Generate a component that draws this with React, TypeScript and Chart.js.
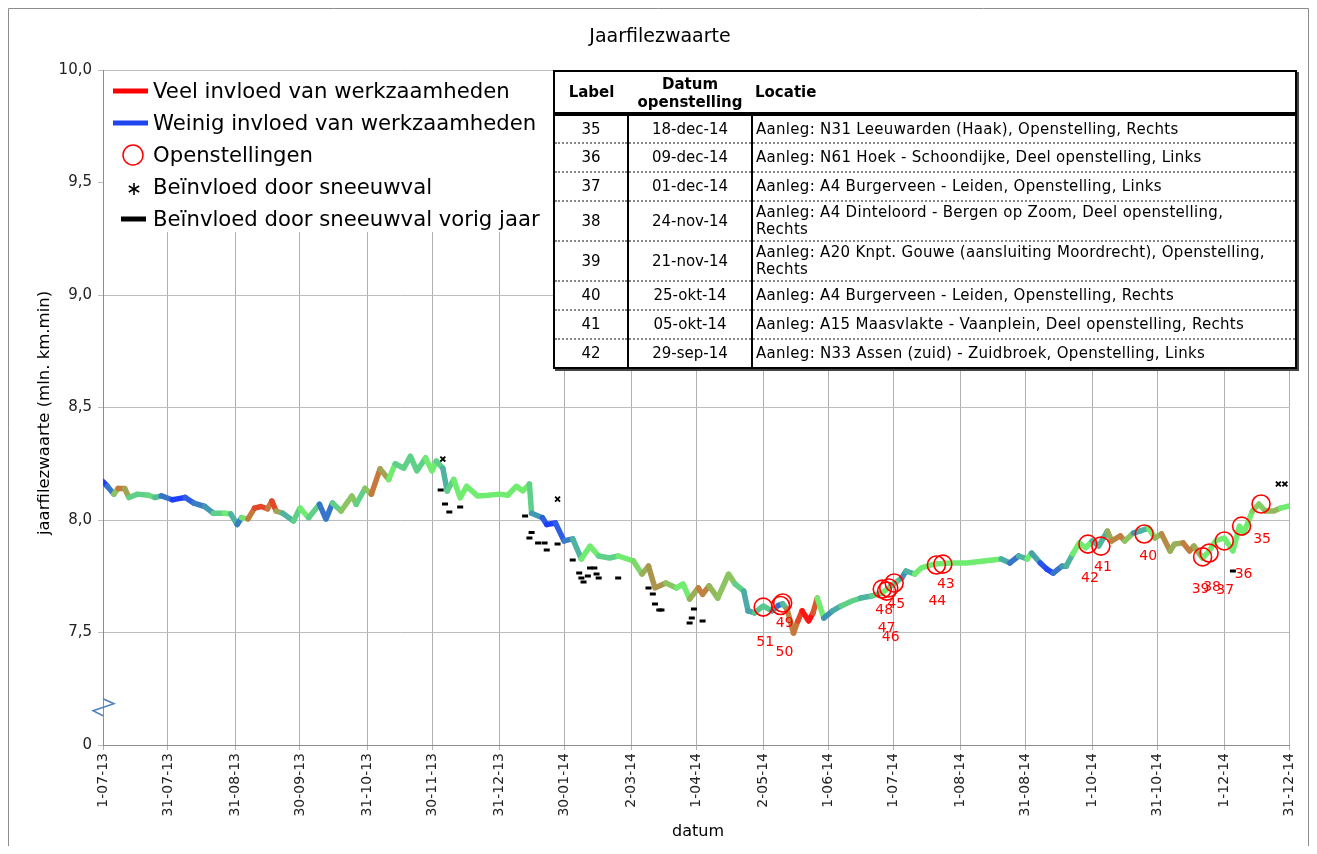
import React, { useEffect, useRef } from "react";
import { Chart, registerables } from "chart.js";

Chart.register(...registerables);

// ---------- DATA ----------
// days since 1-07-2013
const dagen = [
  0, 2, 5, 7, 10, 12, 16, 21, 24, 27, 32, 35, 38, 42, 47, 51, 56, 59, 62, 64,
  67, 70, 73, 76, 78, 80, 83, 88, 91, 95, 100, 103, 106, 110, 115, 117, 121, 124, 128, 132,
  135, 139, 142, 145, 149, 152, 154, 157, 159, 162, 165, 168, 173, 178, 183, 187, 191, 194, 197, 198,
  203, 205, 209, 213, 217, 221, 225, 229, 234, 238, 245, 249, 252, 255, 260, 265, 268, 271, 275, 277,
  280, 284, 289, 292, 296, 298, 301, 305, 309, 312, 314, 316, 319, 321, 323, 326, 328, 330, 333, 337,
  341, 346, 350, 355, 360, 364, 369, 371, 375, 378, 384, 392, 399, 407, 415, 419, 423, 427, 429, 433,
  436, 439, 443, 445, 448, 451, 454, 457, 460, 464, 466, 470, 472, 476, 479, 483, 486, 489, 493, 495,
  499, 502, 504, 508, 511, 514, 518, 522, 525, 527, 531, 534, 537, 541, 544, 548,
];
// jaarfilezwaarte (mln. km.min)
const waarden = [
  8.17, 8.15, 8.115, 8.14, 8.14, 8.1, 8.115, 8.11, 8.1, 8.107, 8.09, 8.095, 8.1, 8.075, 8.06, 8.03, 8.03, 8.027, 7.98, 8.01,
  8.005, 8.053, 8.06, 8.05, 8.084, 8.04, 8.03, 7.996, 8.053, 8.01, 8.07, 8.004, 8.075, 8.04, 8.107, 8.07, 8.14, 8.115, 8.227, 8.18,
  8.25, 8.23, 8.284, 8.218, 8.276, 8.218, 8.262, 8.23, 8.129, 8.18, 8.098, 8.15, 8.107, 8.11, 8.115, 8.11, 8.15, 8.129, 8.16, 8.03,
  8.01, 7.98, 7.987, 7.907, 7.916, 7.827, 7.884, 7.84, 7.831, 7.84, 7.818, 7.76, 7.795, 7.698, 7.72, 7.698, 7.716, 7.649, 7.698, 7.67,
  7.707, 7.653, 7.76, 7.716, 7.684, 7.596, 7.587, 7.618, 7.596, 7.62, 7.627, 7.604, 7.498, 7.551, 7.596, 7.551, 7.587, 7.653, 7.564, 7.596,
  7.618, 7.64, 7.653, 7.662, 7.676, 7.707, 7.742, 7.773, 7.76, 7.787, 7.804, 7.809, 7.809, 7.818, 7.827, 7.809, 7.84, 7.827, 7.853, 7.809,
  7.782, 7.764, 7.795, 7.795, 7.849, 7.898, 7.876, 7.907, 7.884, 7.951, 7.907, 7.929, 7.907, 7.942, 7.951, 7.964, 7.92, 7.938, 7.862, 7.893,
  7.898, 7.862, 7.884, 7.831, 7.862, 7.907, 7.92, 7.862, 7.973, 7.942, 8.04, 8.071, 8.04, 8.04, 8.053, 8.062,
];
// invloed van werkzaamheden: -1 = weinig, 0 = neutraal, 1 = veel
const invloed = [
  -1, -1, -0.3, 0.7, 0.7, 0, -0.3, 0, -0.2, -0.3, -1, -1, -1, -0.6, -0.6, -0.3, 0, 0, -0.6, -0.6,
  0.7, 0.7, 1, 0.7, 0.7, 1, -0.3, -0.3, 0, 0, -0.3, -1, -0.3, 0, 0.4, 0, -0.3, 0.7, 0.7, 0,
  0, -0.3, 0, -0.3, 0, 0, 0, -0.3, -0.3, 0, 0, 0, 0, 0, 0, 0, 0, 0, 0, -0.3,
  -0.6, -1, -1, -0.6, -0.6, 0, 0, 0, -0.3, 0, 0, 0.2, 0.4, 0.5, 0.4, 0, 0, 0, 0.6, 0.7,
  0.5, 0, 0.4, 0, -0.3, -0.4, -0.4, 0, -0.4, -0.4, -1, 0.5, 0.7, 0.7, 1, 1, 1, 0.6, -0.6, -0.4,
  -0.3, 0, -0.3, -0.3, 0, 0, -0.4, -0.6, 0, 0, 0, 0, 0, 0, 0, -0.7, -0.6, 0, 0, -0.8,
  -0.9, -1, -0.3, -0.6, 0, 0, 0, 0, -0.6, 0, 0.6, 0.6, 0.7, -0.3, -0.6, 0, 0, 0.5, 0.6, 0,
  0.6, 0.7, 0.6, 0, 0, 0, 0, 0, 0, 0, 0, 0.3, 0, 0.5, 0, 0,
];

// Openstellingen
const openLabels = ["35", "36", "37", "38", "39", "40", "41", "42", "43", "44", "45", "46", "47", "48", "49", "50", "51"];
const openDagen = [535, 526, 518, 511, 508, 481, 461, 455, 388, 385, 365.5, 363, 362, 360, 314, 313, 305];
const openWaarden = [8.071, 7.973, 7.907, 7.853, 7.836, 7.938, 7.884, 7.893, 7.804, 7.8, 7.72, 7.698, 7.684, 7.693, 7.631, 7.62, 7.613];

// Beïnvloed door sneeuwval
const sneeuwDagen = [157, 210, 543, 546];
const sneeuwWaarden = [8.271, 8.093, 8.16, 8.16];

// Beïnvloed door sneeuwval vorig jaar
const vorigDagen = [156, 158, 160, 165, 195, 198, 197, 201, 204, 205, 210, 217, 220, 221, 222, 224, 225, 227, 228, 229, 238, 252, 254, 255, 257, 258, 271, 272, 273, 277, 522];
const vorigWaarden = [8.133, 8.071, 8.036, 8.058, 8.018, 7.945, 7.92, 7.898, 7.898, 7.867, 7.893, 7.822, 7.764, 7.742, 7.724, 7.751, 7.787, 7.787, 7.76, 7.742, 7.742, 7.698, 7.671, 7.627, 7.6, 7.6, 7.542, 7.564, 7.604, 7.551, 7.773];

// Axis ticks
const xTickDagen = [0, 30, 61, 91, 122, 152, 183, 213, 244, 274, 305, 335, 365, 396, 426, 457, 487, 518, 548];
const xTickLabels = ["1-07-13", "31-07-13", "31-08-13", "30-09-13", "31-10-13", "30-11-13", "31-12-13", "30-01-14", "2-03-14", "1-04-14", "2-05-14", "1-06-14", "1-07-14", "1-08-14", "31-08-14", "1-10-14", "31-10-14", "1-12-14", "31-12-14"];
const yTickWaarden = [7, 7.5, 8, 8.5, 9, 9.5, 10];
const yTickLabels = ["0", "7,5", "8,0", "8,5", "9,0", "9,5", "10,0"];
const asBreukWaarde = 7.17;

// Table
const tabelLabels = ["35", "36", "37", "38", "39", "40", "41", "42"];
const tabelDatums = ["18-dec-14", "09-dec-14", "01-dec-14", "24-nov-14", "21-nov-14", "25-okt-14", "05-okt-14", "29-sep-14"];
const tabelLocaties = [
  "Aanleg: N31 Leeuwarden (Haak), Openstelling, Rechts",
  "Aanleg: N61 Hoek - Schoondijke, Deel openstelling, Links",
  "Aanleg: A4 Burgerveen - Leiden, Openstelling, Links",
  "Aanleg: A4 Dinteloord - Bergen op Zoom, Deel openstelling, Rechts",
  "Aanleg: A20 Knpt. Gouwe (aansluiting Moordrecht), Openstelling, Rechts",
  "Aanleg: A4 Burgerveen - Leiden, Openstelling, Rechts",
  "Aanleg: A15 Maasvlakte - Vaanplein, Deel openstelling, Rechts",
  "Aanleg: N33 Assen (zuid) - Zuidbroek, Openstelling, Links",
];

// ---------- STYLE ----------
const FONT = '"DejaVu Sans", Verdana, sans-serif';
const kleurStops: [number, number[]][] = [
  [-1, [31, 63, 255]],
  [-0.6, [58, 125, 195]],
  [-0.3, [78, 180, 160]],
  [0, [112, 236, 112]],
  [0.4, [165, 155, 80]],
  [0.7, [200, 120, 60]],
  [1, [255, 20, 20]],
];
function kleurVoor(v: number): string {
  if (v <= kleurStops[0][0]) return `rgb(${kleurStops[0][1].join(",")})`;
  for (let i = 0; i < kleurStops.length - 1; i++) {
    const [a, ca] = kleurStops[i];
    const [b, cb] = kleurStops[i + 1];
    if (v <= b) {
      const t = (v - a) / (b - a);
      const c = ca.map((x, k) => Math.round(x + (cb[k] - x) * t));
      return `rgb(${c.join(",")})`;
    }
  }
  return `rgb(${kleurStops[kleurStops.length - 1][1].join(",")})`;
}
// label offsets (px) relative to circle centre
const labelVerschuiving: [number, number][] = [
  [1, 35], [2, 48], [1, 49], [3, 34], [-2, 32], [4, 22], [2, 21], [2, 34],
  [3, 20], [1, 36], [2, 21], [2, 49], [0, 37], [2, 21], [2, 20], [4, 47], [2, 35],
];

const tekenPlugin = {
  id: "tekenPlugin",
  beforeDraw(chart: any) {
    const { ctx, width, height } = chart;
    ctx.save();
    ctx.fillStyle = "#fff";
    ctx.fillRect(0, 0, width, height);
    ctx.strokeStyle = "#8c8c8c";
    ctx.lineWidth = 1;
    ctx.beginPath();
    ctx.moveTo(0.5, height);
    ctx.lineTo(0.5, 0.5);
    ctx.lineTo(width - 0.5, 0.5);
    ctx.lineTo(width - 0.5, height);
    ctx.stroke();
    ctx.restore();
  },
  afterDatasetsDraw(chart: any) {
    const { ctx } = chart;
    const xs = chart.scales.x;
    const ys = chart.scales.y;
    ctx.save();
    ctx.fillStyle = "#ff0000";
    ctx.font = `14px ${FONT}`;
    ctx.textAlign = "center";
    ctx.textBaseline = "middle";
    openLabels.forEach((lab, i) => {
      const px = xs.getPixelForValue(openDagen[i]);
      const py = ys.getPixelForValue(openWaarden[i]);
      const [dx, dy] = labelVerschuiving[i];
      ctx.fillText(lab, px + dx, py + dy);
    });
    ctx.restore();
  },
  afterDraw(chart: any) {
    const { ctx, chartArea: a } = chart;
    const ys = chart.scales.y;
    ctx.save();
    // legend box
    ctx.fillStyle = "#fff";
    ctx.fillRect(a.left + 1, a.top + 1, 450, 161);
    const rows = [83, 115, 147, 179, 211];
    ctx.fillStyle = "#ff0000";
    ctx.fillRect(105, rows[0] - 2.5, 35, 5);
    ctx.fillStyle = "#1f45ee";
    ctx.fillRect(105, rows[1] - 2.5, 35, 5);
    ctx.strokeStyle = "#ff0000";
    ctx.lineWidth = 1.5;
    ctx.beginPath();
    ctx.arc(125, rows[2], 10, 0, Math.PI * 2);
    ctx.stroke();
    ctx.strokeStyle = "#000";
    ctx.lineWidth = 1.6;
    const ax = 126, ay = rows[3] + 2;
    for (let k = 0; k < 3; k++) {
      const ang = Math.PI / 2 + (k * Math.PI) / 3;
      ctx.beginPath();
      ctx.moveTo(ax - Math.cos(ang) * 6, ay - Math.sin(ang) * 6);
      ctx.lineTo(ax + Math.cos(ang) * 6, ay + Math.sin(ang) * 6);
      ctx.stroke();
    }
    ctx.fillStyle = "#000";
    ctx.fillRect(113, rows[4] - 2.5, 25, 5);
    ctx.font = `21.2px ${FONT}`;
    ctx.textAlign = "left";
    ctx.textBaseline = "middle";
    const teksten = [
      "Veel invloed van werkzaamheden",
      "Weinig invloed van werkzaamheden",
      "Openstellingen",
      "Beïnvloed door sneeuwval",
      "Beïnvloed door sneeuwval vorig jaar",
    ];
    teksten.forEach((t, i) => ctx.fillText(t, 145, rows[i] + 1));

    // title
    ctx.font = `19px ${FONT}`;
    ctx.textAlign = "center";
    ctx.fillText("Jaarfilezwaarte", 652, 29);
    // x title
    ctx.font = `16px ${FONT}`;
    ctx.fillText("datum", 690, 824);
    // y title
    ctx.translate(37, 405);
    ctx.rotate(-Math.PI / 2);
    ctx.font = `16.5px ${FONT}`;
    ctx.fillText("jaarfilezwaarte (mln. km.min)", 0, 0);
    ctx.setTransform(1, 0, 0, 1, 0, 0);

    // axis break
    const by = ys.getPixelForValue(asBreukWaarde);
    const bx = a.left;
    ctx.strokeStyle = "#4f81bd";
    ctx.lineWidth = 1.5;
    ctx.beginPath();
    ctx.moveTo(bx, by - 8);
    ctx.lineTo(bx + 11, by - 3);
    ctx.lineTo(bx - 10, by + 4);
    ctx.lineTo(bx, by + 9);
    ctx.stroke();
    ctx.restore();
  },
};

export default function App() {
  const ref = useRef<HTMLCanvasElement | null>(null);

  useEffect(() => {
    if (!ref.current) return;
    const lijn = dagen.map((d, i) => ({ x: d, y: waarden[i] }));
    const open = openDagen.map((d, i) => ({ x: d, y: openWaarden[i] }));
    const sneeuw = sneeuwDagen.map((d, i) => ({ x: d, y: sneeuwWaarden[i] }));
    const vorig = vorigDagen.map((d, i) => ({ x: d, y: vorigWaarden[i] }));
    const chart = new Chart(ref.current, {
      type: "line",
      data: {
        datasets: [
          {
            label: "Openstellingen",
            data: open,
            showLine: false,
            pointStyle: "circle",
            pointRadius: 9,
            pointBorderWidth: 1.6,
            pointBorderColor: "#ff0000",
            pointBackgroundColor: "rgba(0,0,0,0)",
            order: 0,
          },
          {
            label: "Beïnvloed door sneeuwval",
            data: sneeuw,
            showLine: false,
            pointStyle: "crossRot",
            pointRadius: 3.5,
            pointBorderWidth: 1.8,
            pointBorderColor: "#000",
            order: 1,
          },
          {
            label: "Beïnvloed door sneeuwval vorig jaar",
            data: vorig,
            showLine: false,
            pointStyle: "line",
            pointRadius: 3,
            pointBorderWidth: 3,
            pointBorderColor: "#000",
            order: 2,
          },
          {
            label: "Jaarfilezwaarte",
            data: lijn,
            borderWidth: 5.5,
            pointRadius: 0,
            borderCapStyle: "round",
            borderJoinStyle: "round",
            borderColor: kleurVoor(0),
            segment: {
              borderColor: (c: any) => kleurVoor((invloed[c.p0DataIndex] + invloed[c.p1DataIndex]) / 2),
            },
            order: 5,
          },
        ],
      },
      options: {
        animation: false,
        responsive: false,
        events: [],
        layout: { padding: { left: 0, right: 11, top: 62, bottom: 0 } },
        plugins: { legend: { display: false }, title: { display: false }, tooltip: { enabled: false } },
        scales: {
          x: {
            type: "linear",
            min: 0,
            max: 548,
            afterBuildTicks: (s: any) => {
              s.ticks = xTickDagen.map((v) => ({ value: v }));
            },
            afterFit: (s: any) => {
              s.height = 101;
            },
            ticks: {
              autoSkip: false,
              minRotation: 90,
              maxRotation: 90,
              padding: 3,
              color: "#222",
              font: { family: FONT, size: 14 },
              callback: (_v: any, i: number) => xTickLabels[i],
            },
            grid: { color: "#b0b0b0", tickLength: 5 },
            border: { color: "#8c8c8c" },
          },
          y: {
            type: "linear",
            min: 7,
            max: 10,
            afterBuildTicks: (s: any) => {
              s.ticks = yTickWaarden.map((v) => ({ value: v }));
            },
            afterFit: (s: any) => {
              s.width = 95;
            },
            ticks: {
              padding: 6,
              color: "#222",
              font: { family: FONT, size: 15 },
              callback: (_v: any, i: number) => yTickLabels[i],
            },
            grid: { color: "#bdbdbd", tickLength: 5 },
            border: { color: "#8c8c8c" },
          },
        },
      },
      plugins: [tekenPlugin],
    } as any);
    return () => chart.destroy();
  }, []);

  const cel: React.CSSProperties = {
    borderBottom: "2px dotted #888",
    padding: "0 3px",
    lineHeight: "17px",
    verticalAlign: "middle",
  };

  return (
    <div style={{ position: "relative", width: 1301, height: 838 }}>
      <canvas ref={ref} width={1301} height={838} style={{ display: "block" }} />
      <table
        style={{
          position: "absolute",
          left: 545,
          top: 62,
          width: 742,
          borderCollapse: "collapse",
          tableLayout: "fixed",
          background: "#fff",
          border: "2px solid #000",
          boxShadow: "2px 2px 0 #444",
          fontFamily: FONT,
          fontSize: 15,
          color: "#000",
        }}
      >
        <colgroup>
          <col style={{ width: 74 }} />
          <col style={{ width: 124 }} />
          <col style={{ width: 544 }} />
        </colgroup>
        <thead>
          <tr style={{ height: 42 }}>
            <th style={{ borderBottom: "4px solid #000", lineHeight: "18px", fontSize: 15 }}>Label</th>
            <th style={{ borderBottom: "4px solid #000", lineHeight: "18px", fontSize: 15, paddingTop: 3 }}>
              Datum
              <br />
              openstelling
            </th>
            <th style={{ borderBottom: "4px solid #000", lineHeight: "18px", fontSize: 15, textAlign: "left", paddingLeft: 3 }}>Locatie</th>
          </tr>
        </thead>
        <tbody>
          {tabelLabels.map((lab, i) => (
            <tr key={lab} style={{ height: i === 3 || i === 4 ? 40 : 29 }}>
              <td style={{ ...cel, textAlign: "center" }}>{lab}</td>
              <td style={{ ...cel, textAlign: "center", borderLeft: "2px solid #000" }}>{tabelDatums[i]}</td>
              <td style={{ ...cel, textAlign: "left", borderLeft: "2px solid #000", letterSpacing: "0.3px", paddingRight: 25 }}>{tabelLocaties[i]}</td>
            </tr>
          ))}
        </tbody>
      </table>
    </div>
  );
}
